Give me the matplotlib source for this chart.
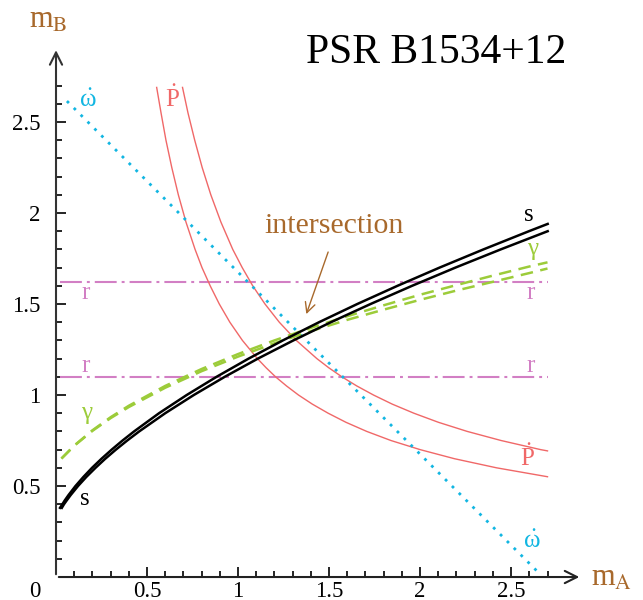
import numpy as np
import matplotlib
matplotlib.use("Agg")
import matplotlib.pyplot as plt

plt.rcParams['font.family'] = ['Liberation Serif', 'DejaVu Serif']
plt.rcParams['mathtext.fontset'] = 'stix'
plt.rcParams['mathtext.default'] = 'regular'

# omega-dot line (total mass)
omdot_x = [0.06, 2.665]
omdot_y = [2.615, 0.01]

# P-dot curves (inner and outer), read as (mA, mB)
pdot1_x = [0.553, 0.577, 0.604, 0.636, 0.672, 0.714, 0.764, 0.802, 0.847, 0.897, 0.955, 1.024,
           1.1065, 1.154, 1.206, 1.266, 1.332, 1.408, 1.495, 1.593, 1.707, 1.840, 2.0, 2.189, 2.42, 2.70]
pdot1_y = [2.69, 2.55, 2.40, 2.25, 2.10, 1.95, 1.80, 1.70, 1.60, 1.50, 1.40, 1.30,
           1.20, 1.15, 1.10, 1.05, 1.00, 0.95, 0.90, 0.85, 0.80, 0.75, 0.70, 0.65, 0.60, 0.551]
pdot2_x = [0.695, 0.725, 0.762, 0.803, 0.8505, 0.906, 0.971, 1.023, 1.0806, 1.148, 1.2266, 1.32,
           1.433, 1.498, 1.5705, 1.652, 1.744, 1.847, 1.966, 2.101, 2.259, 2.445, 2.662, 2.70]
pdot2_y = [2.69, 2.55, 2.40, 2.25, 2.10, 1.95, 1.80, 1.70, 1.60, 1.50, 1.40, 1.30,
           1.20, 1.15, 1.10, 1.05, 1.00, 0.95, 0.90, 0.85, 0.80, 0.75, 0.70, 0.693]

# shapiro s curves
s_up_x = [0.022, 0.035, 0.0475, 0.0685, 0.107, 0.1506, 0.198, 0.2501, 0.306, 0.3656, 0.429, 0.566, 0.718,
          0.882, 1.058, 1.246, 1.445, 1.655, 1.876, 2.107, 2.348, 2.598, 2.701]
s_up_y = [0.38, 0.40, 0.42, 0.45, 0.50, 0.55, 0.60, 0.65, 0.70, 0.75, 0.80, 0.90, 1.00,
          1.10, 1.20, 1.30, 1.40, 1.50, 1.60, 1.70, 1.80, 1.90, 1.94]
s_lo_x = [0.032, 0.044, 0.0582, 0.0803, 0.121, 0.1666, 0.217, 0.2707, 0.329, 0.3911, 0.457, 0.600, 0.757,
          0.927, 1.109, 1.304, 1.510, 1.728, 1.956, 2.194, 2.443, 2.701]
s_lo_y = [0.38, 0.40, 0.42, 0.45, 0.50, 0.55, 0.60, 0.65, 0.70, 0.75, 0.80, 0.90, 1.00,
          1.10, 1.20, 1.30, 1.40, 1.50, 1.60, 1.70, 1.80, 1.90]

# gamma curves
gam_x = [0.03, 0.1, 0.2, 0.3, 0.4, 0.6, 0.8, 1.0, 1.2, 1.4, 1.6, 1.8, 2.0, 2.2, 2.4, 2.6, 2.7]
gam_up = [0.651, 0.722, 0.806, 0.878, 0.941, 1.050, 1.143, 1.225, 1.300, 1.369, 1.433, 1.493, 1.551, 1.604, 1.656, 1.706, 1.729]
gam_lo = [0.651, 0.721, 0.803, 0.873, 0.934, 1.040, 1.131, 1.211, 1.284, 1.351, 1.413, 1.469, 1.523, 1.574, 1.622, 1.670, 1.695]

# r (range) lines
r_levels = [1.62, 1.10]
r_xrange = [0.02, 2.70]

cyan = '#12b6e2'
red = '#f06868'
pink = '#d27fc4'
green = '#9ccc3a'
brown = '#a8692c'

fig = plt.figure(figsize=(6.43, 6.0), dpi=100)
ax = fig.add_axes([0.0871, 0.0383, 0.821, 0.8797])
ax.set_xlim(0, 2.9)
ax.set_ylim(0, 2.9)
for sp in ax.spines.values():
    sp.set_visible(False)

# axes with arrowheads
ax.annotate('', xy=(2.89, 0), xytext=(0, 0), annotation_clip=False,
            arrowprops=dict(arrowstyle='->', color='#222222', lw=1.5, mutation_scale=22))
ax.annotate('', xy=(0, 2.91), xytext=(0, 0), annotation_clip=False,
            arrowprops=dict(arrowstyle='->', color='#333333', lw=1.5, mutation_scale=22))

ax.set_xticks([0.5, 1, 1.5, 2, 2.5])
ax.set_xticklabels(['0.5', '1', '1.5', '2', '2.5'])
ax.set_yticks([0.5, 1, 1.5, 2, 2.5])
ax.set_yticklabels(['0.5', '1', '1.5', '2', '2.5'])
ax.set_xticks(np.arange(0.1, 2.75, 0.1), minor=True)
ax.set_yticks(np.arange(0.1, 2.75, 0.1), minor=True)
ax.tick_params(which='both', direction='in', width=1.2, labelsize=16.5)
ax.tick_params(which='major', length=7)
ax.tick_params(axis='x', which='major', pad=3)
ax.tick_params(axis='y', which='major', pad=11)
ax.tick_params(which='minor', length=4)
ax.text(-0.115, -0.08, '0', fontsize=16.5, ha='center', va='center', clip_on=False)

# data lines
ax.plot(r_xrange, [r_levels[0]] * 2, color=pink, lw=1.5, ls=(0, (10.5, 2.4, 1.4, 2.4)))
ax.plot(r_xrange, [r_levels[1]] * 2, color=pink, lw=1.5, ls=(0, (10.5, 2.4, 1.4, 2.4)))
ax.plot(pdot1_x, pdot1_y, color=red, lw=1.0)
ax.plot(pdot2_x, pdot2_y, color=red, lw=1.0)
ax.plot(omdot_x, omdot_y, color=cyan, lw=2.0, ls=(0, (1, 2.5)))
ax.plot(gam_x, gam_up, color=green, lw=1.8, ls=(0, (5, 3)))
ax.plot(gam_x, gam_lo, color=green, lw=1.8, ls=(0, (5, 3)))
ax.plot(s_up_x, s_up_y, color='black', lw=1.8)
ax.plot(s_lo_x, s_lo_y, color='black', lw=1.8)

# curve labels
lab = dict(fontsize=18, ha='center', va='center', zorder=5)
ax.text(0.176, 2.62, r'$\dot{\omega}$', color=cyan, **lab)
ax.text(2.615, 0.195, r'$\dot{\omega}$', color=cyan, **lab)
ax.text(0.637, 2.63, r'$\dot{P}$', color=red, **lab)
ax.text(2.59, 0.655, r'$\dot{P}$', color=red, **lab)
ax.text(2.60, 1.99, 's', color='black', **lab)
ax.text(0.16, 0.43, 's', color='black', **lab)
ax.text(2.62, 1.80, '\u03b3', color=green, **lab)
ax.text(0.17, 0.90, '\u03b3', color=green, **lab)
ax.text(0.165, 1.56, 'r', color=pink, **lab)
ax.text(2.61, 1.56, 'r', color=pink, **lab)
ax.text(0.165, 1.16, 'r', color=pink, **lab)
ax.text(2.61, 1.16, 'r', color=pink, **lab)

ax.text(1.53, 1.93, 'intersection', color=brown, fontsize=21.5, ha='center', va='center')
ax.annotate('', xy=(1.37, 1.43), xytext=(1.50, 1.80),
            arrowprops=dict(arrowstyle='->', color=brown, lw=1.0, mutation_scale=18))

ax.text(2.09, 2.88, 'PSR B1534+12', fontsize=30, ha='center', va='center', clip_on=False)
fig.text(48 / 643, 1 - 20 / 600, r'm$_\mathrm{B}$', color=brown, fontsize=22, ha='center', va='center')
fig.text(612 / 643, 1 - 578 / 600, r'm$_\mathrm{A}$', color=brown, fontsize=22, ha='center', va='center')

fig.savefig('out.png', dpi=100)
